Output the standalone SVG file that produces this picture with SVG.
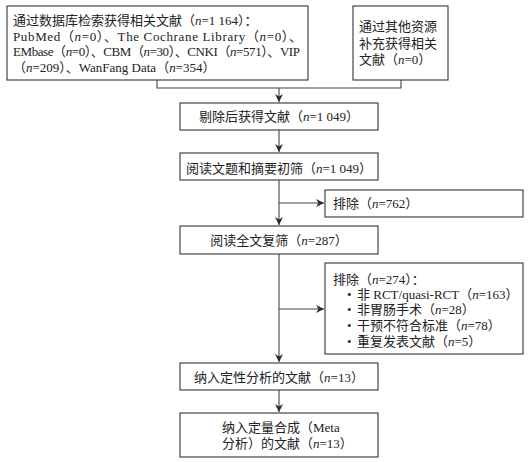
<svg xmlns="http://www.w3.org/2000/svg" width="532" height="462" viewBox="0 0 532 462">
<style>
.box{fill:#fff;stroke:#333;stroke-width:1.1}
.t{font-family:"Liberation Serif","Noto Sans CJK SC",serif;font-size:13px;fill:#222}
.c{text-anchor:middle}
.i{font-style:italic}
.ln{fill:none;stroke:#444;stroke-width:1.1}
</style>
<defs>
<marker id="ah" markerWidth="10" markerHeight="10" refX="8" refY="4" orient="auto" markerUnits="userSpaceOnUse">
<path d="M0,0 L8,4 L0,8 L2.5,4 Z" fill="#2b2638"/>
</marker>
</defs>
<rect width="532" height="462" fill="#fff"/>
<g id="connectors">
<path class="ln" d="M157,80 V88 H401 V80"/>
<path class="ln" d="M279,88 V102" marker-end="url(#ah)"/>
<path class="ln" d="M279,130 V152" marker-end="url(#ah)"/>
<path class="ln" d="M279,180 V225" marker-end="url(#ah)"/>
<path class="ln" d="M279,203 H324" marker-end="url(#ah)"/>
<path class="ln" d="M279,254 V362" marker-end="url(#ah)"/>
<path class="ln" d="M279,309 H324" marker-end="url(#ah)"/>
<path class="ln" d="M279,390 V412" marker-end="url(#ah)"/>
</g>
<g id="db">
<rect class="box" x="7" y="6" width="301" height="74"/>
<text class="t" x="13" y="25">通过数据库检索获得相关文献（<tspan class="i">n</tspan>=1 164）：</text>
<text class="t" x="13" y="40.5" textLength="289" lengthAdjust="spacing">PubMed（<tspan class="i">n</tspan>=0）、The Cochrane Library（<tspan class="i">n</tspan>=0）、</text>
<text class="t" x="13" y="56" textLength="287" lengthAdjust="spacing">EMbase（<tspan class="i">n</tspan>=0）、CBM（<tspan class="i">n</tspan>=30）、CNKI（<tspan class="i">n</tspan>=571）、VIP</text>
<text class="t" x="13" y="72">（<tspan class="i">n</tspan>=209）、WanFang Data（<tspan class="i">n</tspan>=354）</text>
</g>
<g id="other">
<rect class="box" x="353" y="6" width="95" height="74"/>
<text class="t" x="359" y="31">通过其他资源</text>
<text class="t" x="359" y="48">补充获得相关</text>
<text class="t" x="359" y="64">文献（<tspan class="i">n</tspan>=0）</text>
</g>
<g id="dedup">
<rect class="box" x="180" y="103" width="198" height="27"/>
<text class="t c" x="279" y="121">剔除后获得文献（<tspan class="i">n</tspan>=1 049）</text>
</g>
<g id="screen">
<rect class="box" x="180" y="153" width="198" height="27"/>
<text class="t c" x="279" y="173">阅读文题和摘要初筛（<tspan class="i">n</tspan>=1 049）</text>
</g>
<g id="excl1">
<rect class="box" x="325" y="190" width="198" height="27"/>
<text class="t" x="333" y="208">排除（<tspan class="i">n</tspan>=762）</text>
</g>
<g id="fulltext">
<rect class="box" x="180" y="226" width="198" height="28"/>
<text class="t c" x="279" y="245">阅读全文复筛（<tspan class="i">n</tspan>=287）</text>
</g>
<g id="excl2">
<rect class="box" x="325" y="263" width="198" height="91"/>
<text class="t" x="333" y="284">排除（<tspan class="i">n</tspan>=274）：</text>
<text class="t" x="347" y="299">•</text>
<text class="t" x="357" y="299">非 RCT/quasi-RCT（<tspan class="i">n</tspan>=163）</text>
<text class="t" x="347" y="314">•</text>
<text class="t" x="357" y="314">非胃肠手术（<tspan class="i">n</tspan>=28）</text>
<text class="t" x="347" y="330">•</text>
<text class="t" x="357" y="330">干预不符合标准（<tspan class="i">n</tspan>=78）</text>
<text class="t" x="347" y="346">•</text>
<text class="t" x="357" y="346">重复发表文献（<tspan class="i">n</tspan>=5）</text>
</g>
<g id="qual">
<rect class="box" x="180" y="363" width="198" height="27"/>
<text class="t c" x="279" y="381.5">纳入定性分析的文献（<tspan class="i">n</tspan>=13）</text>
</g>
<g id="meta">
<rect class="box" x="180" y="413" width="198" height="44"/>
<text class="t" x="222" y="432">纳入定量合成（Meta</text>
<text class="t" x="222" y="448">分析）的文献（<tspan class="i">n</tspan>=13）</text>
</g>
</svg>
